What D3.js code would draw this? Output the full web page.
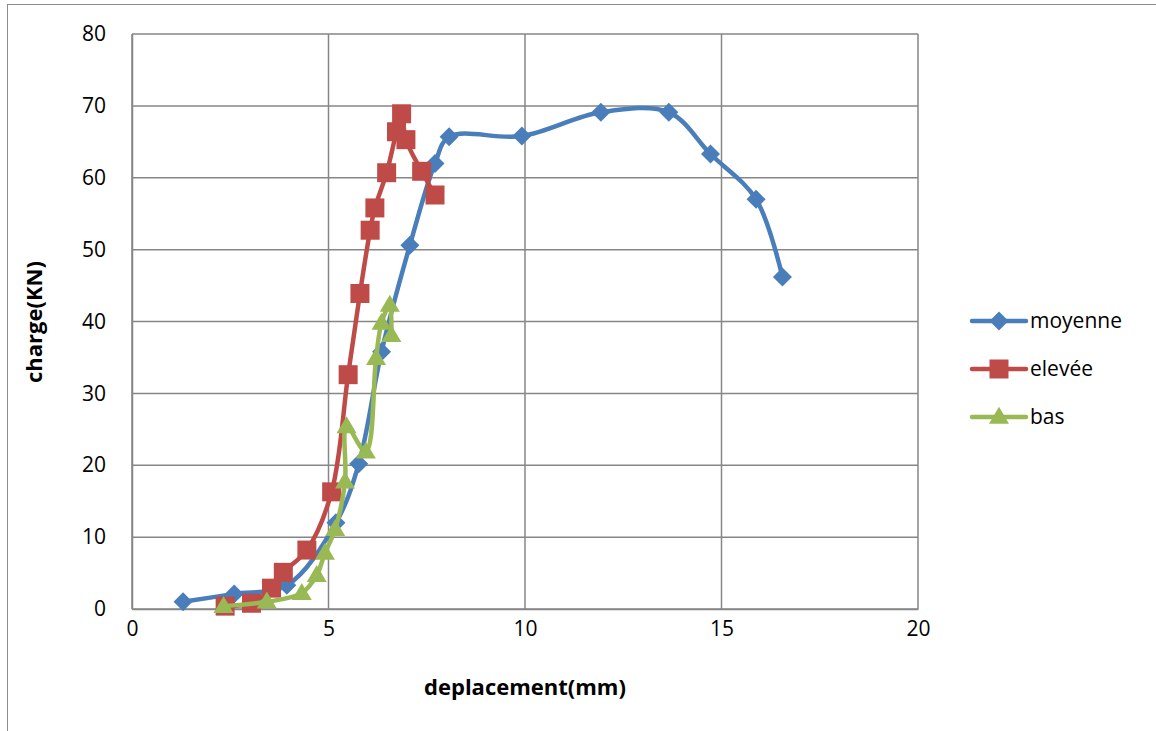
<!DOCTYPE html>
<html><head><meta charset="utf-8">
<script src="https://cdn.jsdelivr.net/npm/d3@7"></script>
<style>body{margin:0;background:#fff}svg{display:block}text{font-family:"Open Sans",Lato,sans-serif}</style>
</head><body>
<script>
const seriesNames = ["moyenne","elevée","bas"];
const moyenneX = [1.3,2.6,3.94,5.19,5.77,6.35,7.07,7.71,8.07,9.92,11.93,13.66,14.72,15.88,16.55];
const moyenneY = [1.0,2.1,3.3,12.0,20.2,35.8,50.6,62.0,65.7,65.8,69.1,69.1,63.3,57.0,46.2];
const eleveeX = [2.37,3.04,3.55,3.85,4.45,5.08,5.5,5.8,6.06,6.18,6.48,6.73,6.86,6.97,7.37,7.71];
const eleveeY = [0.4,0.8,2.9,5.1,8.2,16.3,32.6,43.9,52.7,55.8,60.7,66.4,68.9,65.3,60.9,57.6];
const basX = [2.33,3.43,4.32,4.7,4.91,5.17,5.42,5.46,5.95,6.21,6.35,6.56,6.6];
const basY = [0.4,1.0,2.2,4.7,7.8,11.1,17.7,25.4,21.9,34.9,39.8,42.3,38.1];
const xTicks = [0,5,10,15,20];
const yTicks = [0,10,20,30,40,50,60,70,80];
const xTitle = "deplacement(mm)";
const yTitle = "charge(KN)";

const colors = ["#4A7EBB","#BE4B48","#98B954"];
const W=1156,H=731;
const svg=d3.select("body").append("svg").attr("width",W).attr("height",H);
svg.append("rect").attr("x",7.5).attr("y",4.5).attr("width",1160).attr("height",740).attr("fill","none").attr("stroke","#8c8c8c").attr("stroke-width",1);

// marker shapes (Excel-like): diamond, square, triangle
const markerPath=[
  ()=>{const p=d3.path();const r=9.5;p.moveTo(0,-r);p.lineTo(r,0);p.lineTo(0,r);p.lineTo(-r,0);p.closePath();return p.toString();},
  ()=>{const p=d3.path();const r=9.5;p.rect(-r,-r,2*r,2*r);return p.toString();},
  ()=>{const p=d3.path();const w=10,h=17;p.moveTo(0,-h*0.6);p.lineTo(w,h*0.4);p.lineTo(-w,h*0.4);p.closePath();return p.toString();}
];

const x=d3.scaleLinear().domain([0,20]).range([132,918]);
const y=d3.scaleLinear().domain([0,80]).range([609,34]);
const g=svg.append("g");
g.selectAll(".hg").data(yTicks).join("line").attr("x1",x(0)).attr("x2",x(20)).attr("y1",d=>y(d)).attr("y2",d=>y(d)).attr("stroke","#868686").attr("stroke-width",1.5);
g.selectAll(".vg").data(xTicks).join("line").attr("y1",y(0)).attr("y2",y(80)).attr("x1",d=>x(d)).attr("x2",d=>x(d)).attr("stroke","#868686").attr("stroke-width",1.5);
const xa=svg.append("g").attr("transform",`translate(0,${y(0)})`).call(d3.axisBottom(x).tickValues(xTicks).tickSize(0).tickPadding(24));
const ya=svg.append("g").attr("transform",`translate(${x(0)},0)`).call(d3.axisLeft(y).tickValues(yTicks).tickSize(0).tickPadding(26));
[xa,ya].forEach(a=>{a.select(".domain").attr("stroke","#868686").attr("stroke-width",1.5);a.selectAll("text").attr("font-size",21).attr("fill","#000").style("font-family","'Open Sans',sans-serif");});
xa.selectAll("text").attr("dy","0.15em");
svg.append("text").attr("x",525).attr("y",695).attr("text-anchor","middle").attr("font-size",22).attr("font-weight","bold").text(xTitle);
svg.append("text").attr("transform","translate(42,322) rotate(-90)").attr("text-anchor","middle").attr("font-size",22).attr("font-weight","bold").text(yTitle);

const data=[d3.zip(moyenneX,moyenneY),d3.zip(eleveeX,eleveeY),d3.zip(basX,basY)];
const line=d3.line().x(d=>x(d[0])).y(d=>y(d[1])).curve(d3.curveCatmullRom.alpha(0.5));
data.forEach((s,i)=>{
  svg.append("path").datum(s).attr("d",line).attr("fill","none").attr("stroke",colors[i]).attr("stroke-width",4.5).attr("stroke-linejoin","round");
  svg.append("g").selectAll("path").data(s).join("path")
    .attr("transform",d=>`translate(${x(d[0])},${y(d[1])})`)
    .attr("d",markerPath[i]()).attr("fill",colors[i]);
});
seriesNames.forEach((n,i)=>{
  const ly=321+i*48;
  svg.append("line").attr("x1",972).attr("x2",1026).attr("y1",ly).attr("y2",ly).attr("stroke",colors[i]).attr("stroke-width",4.5).attr("stroke-linecap","round");
  svg.append("path").attr("transform",`translate(999,${ly})`).attr("d",markerPath[i]()).attr("fill",colors[i]);
  svg.append("text").attr("x",1030).attr("y",ly).attr("dy","0.35em").attr("font-size",21).text(n);
});
</script>
</body></html>
